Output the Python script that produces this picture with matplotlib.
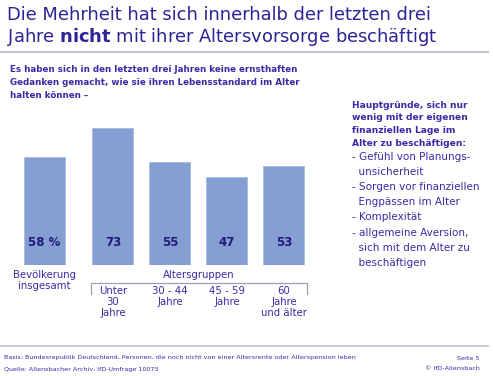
import matplotlib
matplotlib.use("Agg")
import matplotlib.pyplot as plt

# Data
categories = ["Bevölkerung\ninsgesamt", "Unter\n30\nJahre", "30 - 44\nJahre",
              "45 - 59\nJahre", "60\nJahre\nund älter"]
values = [58, 73, 55, 47, 53]
value_labels = ["58 %", "73", "55", "47", "53"]
group_label = "Altersgruppen"
reasons_head = ["Hauptgründe, sich nur", "wenig mit der eigenen",
                "finanziellen Lage im", "Alter zu beschäftigen:"]
reasons = ["- Gefühl von Planungs-", "  unsicherheit", "- Sorgen vor finanziellen",
           "  Engpässen im Alter", "- Komplexität", "- allgemeine Aversion,",
           "  sich mit dem Alter zu", "  beschäftigen"]

W, H = 493, 376
txt = "#3b2aa6"
dark = "#22197a"
bar_col = "#859fd2"
line_col = "#c3bfdc"

plt.rcParams["font.family"] = "DejaVu Sans"
plt.rcParams["mathtext.fontset"] = "dejavusans"

fig = plt.figure(figsize=(W / 100, H / 100), dpi=100)
fig.patch.set_facecolor("white")


def fy(py):
    return 1 - py / H


# Title
fig.text(7 / W, fy(15), "Die Mehrheit hat sich innerhalb der letzten drei",
         fontsize=12.9, color="#2c2494", va="center")
fig.text(7 / W, fy(37), r"Jahre $\mathbf{nicht}$ mit ihrer Altersvorsorge beschäftigt",
         fontsize=12.9, color="#2c2494", va="center")
fig.add_artist(plt.Line2D([0, 488 / W], [fy(52), fy(52)], color=line_col, lw=1.5))

# Subtitle
sub = ["Es haben sich in den letzten drei Jahren keine ernsthaften",
       "Gedanken gemacht, wie sie ihren Lebensstandard im Alter",
       "halten können –"]
for i, s in enumerate(sub):
    fig.text(10 / W, fy(70 + i * 12.5), s, fontsize=6.3, fontweight="bold",
             color=txt, va="center")

# Bars
positions = [0, 1.2, 2.2, 3.2, 4.2]
unit = 57.0
x0 = 44.5
base = 265
scale = 1.87
top = 60
ax = fig.add_axes([0, 1 - base / H, 1, (base - top) / H])
ax.set_xlim(-x0 / unit, (W - x0) / unit)
ax.set_ylim(0, (base - top) / scale)
ax.axis("off")
ax.bar(positions, values, width=0.72, color=bar_col, edgecolor="#a9bbe0", linewidth=0.6)
for p, lab in zip(positions, value_labels):
    ax.text(p, (base - 242) / scale, lab, ha="center", va="center",
            fontsize=8.5, fontweight="bold", color=dark)

# Category labels
ax.text(positions[0], (base - 270) / scale, categories[0], ha="center", va="top",
        fontsize=7.3, color=txt, linespacing=1.1, clip_on=False)
for p, lab in zip(positions[1:], categories[1:]):
    ax.text(p, (base - 286) / scale, lab, ha="center", va="top",
            fontsize=7.3, color=txt, linespacing=1.1, clip_on=False)
ax.text((positions[1] + positions[-1]) / 2, (base - 275) / scale, group_label,
        ha="center", va="center", fontsize=7.3, color=txt, clip_on=False)

# Bracket
bl = positions[1] - 0.39
br = positions[-1] + 0.41
yb = (base - 283) / scale
yd = (base - 294) / scale
ax.plot([bl, bl, br, br], [yd, yb, yb, yd], color="#a09cc0", lw=0.9, clip_on=False)

# Right side text
for i, s in enumerate(reasons_head):
    fig.text(352 / W, fy(105 + i * 13.0), s, fontsize=6.6, fontweight="bold",
             color=txt, va="center")
for i, s in enumerate(reasons):
    fig.text(352 / W, fy(157 + i * 15.1), s, fontsize=7.5, color=txt, va="center")

# Footer
fig.add_artist(plt.Line2D([0, 488 / W], [fy(346), fy(346)], color=line_col, lw=1.2))
fig.text(4 / W, fy(358), "Basis: Bundesrepublik Deutschland, Personen, die noch nicht von einer "
         "Altersrente oder Alterspension leben", fontsize=4.6, color=txt, va="center")
fig.text(4 / W, fy(369), "Quelle: Allensbacher Archiv, IfD-Umfrage 10073",
         fontsize=4.6, color=txt, va="center")
fig.text(468 / W, fy(358), "Seite 5", fontsize=4.6, color=txt, va="center", ha="center")
fig.text(480 / W, fy(369), "© IfD-Allensbach", fontsize=4.6, color=txt, va="center",
         ha="right")

fig.savefig("out.png", dpi=100)
